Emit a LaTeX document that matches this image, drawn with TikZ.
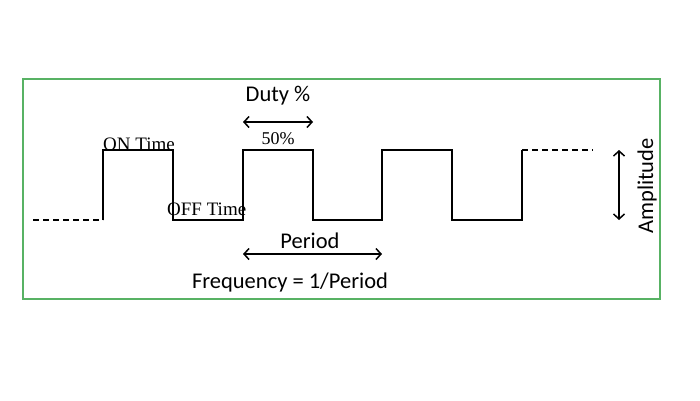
\documentclass[tikz,border=0pt]{standalone}
\usepackage{fontspec}
\setmainfont{Liberation Serif}
\newfontfamily\calib{Carlito}
\usetikzlibrary{arrows.meta}
\definecolor{framegreen}{RGB}{88,178,100}
\tikzset{
  wave/.style={line width=1.8pt, line join=miter},
  dashwave/.style={line width=1.8pt, dash pattern=on 6pt off 4pt},
  dim/.style={line width=1.5pt, {Straight Barb[length=5pt,width=11pt]}-{Straight Barb[length=5pt,width=11pt]}},
  sanslabel/.style={font=\calib\fontsize{22.5}{24}\selectfont, inner sep=0pt},
  seriflabel/.style={font=\fontsize{19}{21}\selectfont, inner sep=0pt},
}
\begin{document}
\begin{tikzpicture}[x=1pt,y=-1pt]
\useasboundingbox (0,0) rectangle (700,400);
\draw[framegreen, line width=1.3pt] (23,79) rectangle (660,299);
% waveform coordinates
\coordinate (d0) at (33,220);
\coordinate (a0) at (103,220);
\coordinate (a1) at (103,150);
\coordinate (b1) at (173,150);
\coordinate (b0) at (173,220);
\coordinate (c0) at (243,220);
\coordinate (c1) at (243,150);
\coordinate (e1) at (313,150);
\coordinate (e0) at (313,220);
\coordinate (f0) at (382,220);
\coordinate (f1) at (382,150);
\coordinate (g1) at (452,150);
\coordinate (g0) at (452,220);
\coordinate (h0) at (522,220);
\coordinate (h1) at (522,150);
\coordinate (d1) at (593,150);
\draw[dashwave] (d0) -- (a0);
\draw[wave] (a0) -- (a1) -- (b1) -- (b0) -- (c0) -- (c1) -- (e1) -- (e0) -- (f0) -- (f1) -- (g1) -- (g0) -- (h0) -- (h1);
\draw[dashwave] (h1) -- (d1);
% duty arrow
\coordinate (du1) at (243,122);
\coordinate (du2) at (313,122);
\draw[dim] (du1) -- (du2);
\node[sanslabel] (duty) at (278,96) {Duty \%};
\node[seriflabel, font=\fontsize{18}{20}\selectfont] (fifty) at (278,139) {50\%};
\node[seriflabel, anchor=base west] (on) at (103,150) {ON Time};
\node[seriflabel, anchor=base west] (off) at (167,215) {OFF Time};
% period arrow
\coordinate (p1) at (243,254);
\coordinate (p2) at (382,254);
\draw[dim] (p1) -- (p2);
\node[sanslabel] (period) at (310,241) {Period};
\node[sanslabel] (freq) at (290,282) {Frequency = 1/Period};
% amplitude
\coordinate (am1) at (619,150);
\coordinate (am2) at (619,220);
\draw[dim] (am1) -- (am2);
\node[sanslabel, rotate=90] (amp) at (647,186) {Amplitude};
\end{tikzpicture}
\end{document}
